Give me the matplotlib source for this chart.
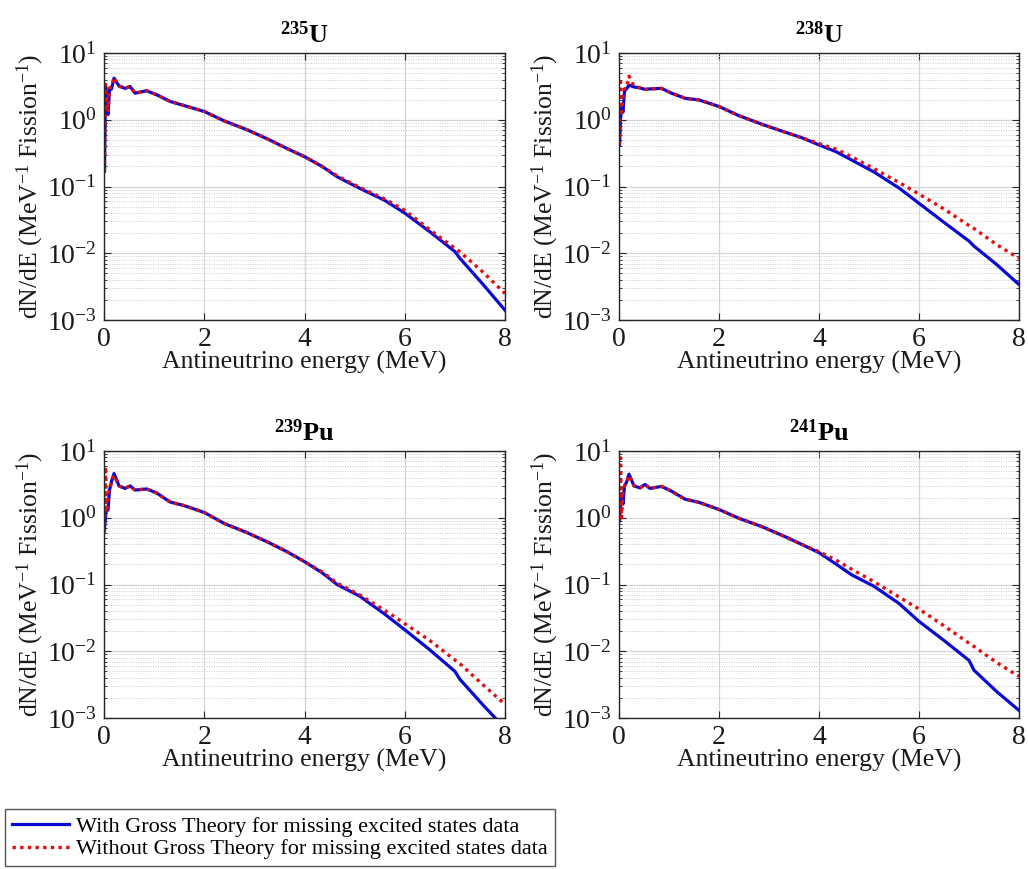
import numpy as np
import matplotlib
matplotlib.use("Agg")
import matplotlib.pyplot as plt
from matplotlib.ticker import LogLocator, NullFormatter, FixedLocator

plt.rcParams['font.family'] = ['Liberation Serif', 'DejaVu Serif']
plt.rcParams['mathtext.fontset'] = 'custom'
plt.rcParams['mathtext.rm'] = 'Liberation Serif'
plt.rcParams['mathtext.it'] = 'Liberation Serif:italic'
plt.rcParams['mathtext.bf'] = 'Liberation Serif:bold'

# Antineutrino energy grid (MeV)
energy = [0.01, 0.03, 0.05, 0.08, 0.11, 0.15, 0.2, 0.3, 0.42, 0.52, 0.62, 0.85,
          1.05, 1.32, 1.6, 2.0, 2.4, 2.85, 3.3, 3.65, 4.0, 4.35, 4.65, 5.1,
          5.6, 6.0, 6.5, 7.0, 7.1, 7.55, 8.0]

# Spectra dN/dE (MeV^-1 fission^-1): with / without Gross Theory
u235_with = [0.17, 3.3, 2.6, 1.2, 2.8, 2.9, 4.2, 3.2, 2.95, 3.15, 2.5, 2.72,
             2.37, 1.88, 1.63, 1.33, 0.96, 0.71, 0.5, 0.37, 0.28, 0.2, 0.14, 0.094,
             0.062, 0.04, 0.021, 0.0106, 0.0084, 0.0035, 0.0014]
u235_without = [0.17, 3.4, 2.4, 1.3, 3.0, 3.1, 4.3, 3.2, 2.95, 3.15, 2.5, 2.72,
                2.37, 1.88, 1.63, 1.33, 0.96, 0.71, 0.5, 0.37, 0.28, 0.2, 0.145, 0.097,
                0.065, 0.044, 0.0225, 0.0119, 0.0105, 0.0053, 0.0025]

u238_with = [0.42, 1.0, 1.5, 1.3, 2.7, 2.9, 3.3, 3.1, 3.0, 2.85, 2.9, 2.95,
             2.5, 2.1, 1.98, 1.58, 1.15, 0.86, 0.66, 0.54, 0.42, 0.33, 0.25, 0.165,
             0.095, 0.056, 0.029, 0.0152, 0.0128, 0.0068, 0.0034]
u238_without = [0.42, 3.7, 1.3, 2.2, 2.9, 3.0, 4.5, 3.2, 3.0, 2.85, 2.9, 2.95,
                2.5, 2.1, 1.98, 1.58, 1.15, 0.86, 0.66, 0.54, 0.44, 0.36, 0.28, 0.185,
                0.115, 0.077, 0.046, 0.026, 0.0235, 0.0135, 0.0084]

pu239_with = [0.7, 1.0, 1.4, 1.3, 2.6, 3.5, 4.6, 3.0, 2.75, 3.0, 2.6, 2.7,
              2.35, 1.72, 1.52, 1.2, 0.82, 0.6, 0.42, 0.31, 0.22, 0.15, 0.1, 0.067,
              0.036, 0.021, 0.0105, 0.005, 0.0038, 0.0016, 0.0007]
pu239_without = [0.6, 5.8, 1.2, 2.0, 2.8, 3.3, 4.3, 3.0, 2.75, 3.0, 2.6, 2.7,
                 2.35, 1.72, 1.52, 1.2, 0.82, 0.6, 0.42, 0.31, 0.22, 0.155, 0.105, 0.07,
                 0.041, 0.026, 0.0145, 0.0074, 0.0065, 0.0032, 0.0016]

pu241_with = [0.9, 1.5, 2.3, 1.6, 3.0, 3.4, 4.5, 3.0, 2.8, 3.15, 2.75, 2.95,
              2.5, 1.9, 1.7, 1.33, 0.98, 0.74, 0.53, 0.4, 0.3, 0.2, 0.14, 0.094,
              0.052, 0.028, 0.0145, 0.0073, 0.0052, 0.0025, 0.0013]
pu241_without = [0.9, 7.9, 1.0, 2.5, 3.0, 3.3, 4.3, 3.0, 2.8, 3.15, 2.75, 2.95,
                 2.5, 1.9, 1.7, 1.33, 0.98, 0.74, 0.53, 0.4, 0.31, 0.23, 0.17, 0.11,
                 0.065, 0.043, 0.024, 0.0132, 0.0118, 0.0068, 0.0042]

titles = [r'$\mathbf{^{235}U}$', r'$\mathbf{^{238}U}$',
          r'$\mathbf{^{239}Pu}$', r'$\mathbf{^{241}Pu}$']
series_with = [u235_with, u238_with, pu239_with, pu241_with]
series_without = [u235_without, u238_without, pu239_without, pu241_without]
legend_labels = ['With Gross Theory for missing excited states data',
                 'Without Gross Theory for missing excited states data']
xticks = [0, 2, 4, 6, 8]

W, H = 1028, 869
fig = plt.figure(figsize=(W / 100, H / 100), dpi=100)

# axes boxes in pixels: (left, top, right, bottom)
boxes = [(104, 53, 505, 320), (619, 53, 1019, 320),
         (104, 451, 505, 718), (619, 451, 1019, 718)]

blue = '#0a0ad2'
red = '#e01010'
axes = []
for i, (l, t, r, b) in enumerate(boxes):
    ax = fig.add_axes([l / W, 1 - b / H, (r - l) / W, (b - t) / H])
    axes.append(ax)
    ax.set_yscale('log')
    ax.plot(energy, series_with[i], color=blue, lw=2.3, solid_joinstyle='round',
            label=legend_labels[0])
    ax.plot(energy, series_without[i], color=red, lw=2.4, linestyle=(0, (1.0, 1.3)),
            label=legend_labels[1])
    ax.set_xlim(0, 8)
    ax.set_ylim(1e-3, 1e1)
    ax.xaxis.set_major_locator(FixedLocator(xticks))
    ax.yaxis.set_major_locator(LogLocator(base=10, numticks=10))
    ax.yaxis.set_minor_locator(LogLocator(base=10, subs=np.arange(2, 10), numticks=20))
    ax.yaxis.set_minor_formatter(NullFormatter())
    ax.set_axisbelow(True)
    ax.grid(which='major', color='#d4d4d4', lw=0.9, ls='-')
    ax.grid(which='minor', axis='y', color='#cccccc', lw=0.7, ls=(0, (1, 1.5)))
    ax.tick_params(which='both', direction='in', top=True, right=True,
                   colors='#262626', labelsize=20, labelcolor='#1a1a1a')
    ax.tick_params(which='major', length=5, width=0.8, pad=5)
    ax.tick_params(which='minor', length=2.5, width=0.6)
    for s in ax.spines.values():
        s.set_color('#262626')
        s.set_linewidth(1.0)
    ax.set_title(titles[i], fontsize=19, pad=7)
    ax.set_xlabel('Antineutrino energy (MeV)', fontsize=18.5, labelpad=-1, color='#1a1a1a')
    ax.set_ylabel(r'dN/dE (MeV$^{-1}$ Fission$^{-1}$)', fontsize=18.5, labelpad=1,
                  color='#1a1a1a')

handles = axes[0].get_lines()
leg = fig.legend(handles=handles, labels=legend_labels, loc='lower left',
                 bbox_to_anchor=(5 / W, 3 / H), fontsize=16, frameon=True,
                 fancybox=False, edgecolor='#555555', framealpha=1,
                 handlelength=2.6, handletextpad=0.3, borderpad=0.3,
                 labelspacing=0.1, borderaxespad=0)
leg.get_frame().set_linewidth(1.0)

fig.savefig('out.png', dpi=100)
